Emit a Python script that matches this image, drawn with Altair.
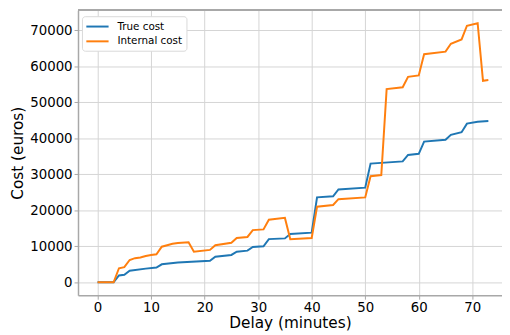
import altair as alt
import pandas as pd

series_names = ["True cost", "Internal cost"]
series_colors = ["#1f77b4", "#ff7f0e"]

true_minutes = [0, 3, 4, 5, 6, 9, 11, 12, 15, 21, 22, 25, 26, 28, 29, 31, 32, 35, 36, 40,
                41, 44, 45, 50, 51, 57, 58, 60, 61, 65, 66, 68, 69, 71, 73]
true_cost = [0, 0, 1900, 2100, 3200, 3800, 4100, 5000, 5500, 6000, 7100, 7600, 8500, 8800,
             9800, 10000, 12000, 12200, 13400, 13800, 23600, 23900, 25800, 26300, 33000,
             33600, 35400, 35700, 39100, 39600, 41000, 41700, 44100, 44600, 44800]

internal_minutes = [0, 3, 4, 5, 6, 7, 8, 9, 10, 11, 12, 13, 14, 15, 17, 18, 21, 22, 25, 26,
                    28, 29, 31, 32, 35, 36, 40, 41, 44, 45, 50, 51, 53, 54, 57, 58, 60, 61,
                    65, 66, 68, 69, 71, 72, 73]
internal_cost = [0, 0, 3900, 4200, 6200, 6700, 6900, 7300, 7600, 7800, 9900, 10300, 10700,
                 10900, 11100, 8500, 9000, 10300, 11000, 12300, 12600, 14500, 14700, 17400,
                 17900, 12000, 12300, 21000, 21500, 23100, 23600, 29500, 29800, 53700, 54200,
                 57100, 57500, 63400, 64100, 66300, 67500, 71300, 72000, 56000, 56200]

x_ticks = [0, 10, 20, 30, 40, 50, 60, 70]
y_ticks = [0, 10000, 20000, 30000, 40000, 50000, 60000, 70000]

df_true = pd.DataFrame({"Delay": true_minutes, "Cost": true_cost, "Series": series_names[0]})
df_int = pd.DataFrame({"Delay": internal_minutes, "Cost": internal_cost, "Series": series_names[1]})

W, H = 430, 289
FONT = "DejaVu Sans"
GRID = "#d4d4d4"
FRAME = "#a8a8a8"

x_enc = alt.X("Delay:Q", scale=alt.Scale(domain=[-3.65, 75.55], nice=False, zero=False),
              axis=alt.Axis(title="Delay (minutes)", values=x_ticks, format="d"))
y_enc = alt.Y("Cost:Q", scale=alt.Scale(domain=[-3600, 75600], nice=False, zero=False),
              axis=alt.Axis(title="Cost (euros)", values=y_ticks, format="d"))
color_scale = alt.Scale(domain=series_names, range=series_colors)

blue = alt.Chart(df_true).mark_line(strokeWidth=2, clip=True).encode(
    x=x_enc, y=y_enc,
    color=alt.Color("Series:N", scale=color_scale, sort=series_names,
                    legend=alt.Legend(title=None, orient="none", legendX=4, legendY=6,
                                      symbolType="M-1.1,0H3", symbolSize=121,
                                      symbolStrokeWidth=2, labelFontSize=10.5,
                                      labelFont=FONT, labelColor="#000000",
                                      fillColor="white", strokeColor="#d8d8d8",
                                      padding=4, cornerRadius=3, labelOffset=19,
                                      rowPadding=3, labelLimit=200)),
)
orange = alt.Chart(df_int).mark_line(strokeWidth=2, clip=True).encode(
    x=x_enc, y=y_enc,
    color=alt.Color("Series:N", scale=color_scale, sort=series_names),
)
top_border = alt.Chart(df_true).mark_rule(color=FRAME, strokeWidth=1.5).encode(
    x=alt.value(0), x2=alt.value(W), y=alt.value(0)
)

chart = alt.layer(blue, orange, top_border).properties(
    width=W, height=H,
    autosize=alt.AutoSizeParams(type="none"),
    padding={"left": 71, "top": 0, "right": 0, "bottom": 38},
).configure_view(stroke=None).configure_axis(
    labelFont=FONT, titleFont=FONT, labelFontSize=13.5, titleFontSize=15.5,
    labelColor="#000000", titleColor="#000000", titleFontWeight="normal",
    gridColor=GRID, gridWidth=1, domainColor=FRAME, domainWidth=1.5,
    tickColor=FRAME, tickSize=4, tickWidth=1, labelPadding=2,
).configure_axisY(titlePadding=4).configure_axisX(titlePadding=2, labelPadding=1)

chart.save("out.html", embed_options={"renderer": "svg", "actions": False})
